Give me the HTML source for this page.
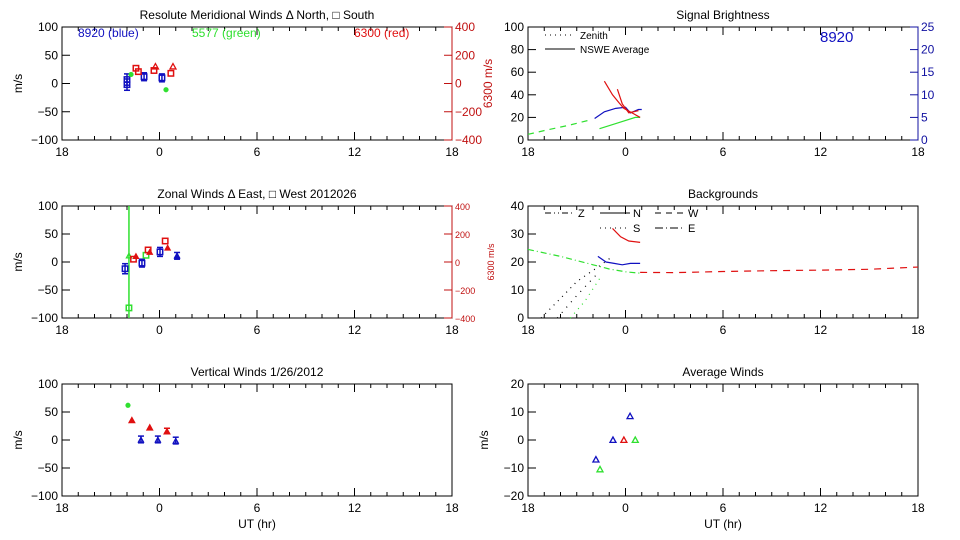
<!DOCTYPE html>
<html><head><meta charset="utf-8"><style>
body{margin:0;background:#fff;}
svg{display:block;font-family:"Liberation Sans",sans-serif;}
</style></head><body>
<svg id="c" width="960" height="540" viewBox="0 0 960 540" xmlns="http://www.w3.org/2000/svg"></svg>
<script>
// ---- data (x = hours after 18 UT) ----
const xTickLabels=["18","0","6","12","18"];
const mwTicks=[100,50,0,-50,-100];
const redTicks=[400,200,0,-200,-400];
// Meridional
const merBlueT=[4.0,4.0,5.05,6.15], merBlueV=[7,-2,12,10], merBlueErr=[10,10,7,7];
const merGreenT=[4.25,6.4], merGreenV=[16,-11];
const merRedSqT=[4.55,4.7,5.66,6.7], merRedSqV=[108,84,92,72];
const merRedTriT=[5.75,6.83], merRedTriV=[120,120];
// Zonal
const zonBlueT=[3.88,4.92,6.03,7.08], zonBlueV=[-12,-2,18,11], zonBlueErr=[9,7,8,6];
const zonGreenT=[4.12,4.12,5.17], zonGreenV=[-82,11,12];
const zonRedSqT=[4.4,5.3,6.35], zonRedSqV=[20,86,150];
const zonRedTriT=[4.55,5.4,6.5], zonRedTriV=[40,70,100];
// Vertical
const verGreenT=[4.06], verGreenV=[62];
const verRedT=[4.3,5.4,6.46], verRedV=[35,22,15];
const verBlueT=[4.86,5.9,7.0], verBlueV=[0,0,-2];
// Signal brightness (left axis 0-100)
const sbGreenDashT=[0,1.2,2.5,3.9], sbGreenDashV=[5,9,13,18];
const sbGreenT=[4.4,5.5,6.6,6.9], sbGreenV=[10,15,20,20];
const sbBlueT=[4.1,4.7,5.4,6.0,6.3,6.8,7.0], sbBlueV=[19,25,28,29,24,27,27];
const sbRedT=[4.7,5.2,5.6,5.9,6.4,6.9], sbRedV=[52,40,33,28,24,20];
const sbRedT2=[5.5,5.8,6.2,6.8], sbRedV2=[45,32,24,26];
// Backgrounds (0-40)
const bgRedDashT=[6.9,9,12,15,18,21,24], bgRedDashV=[16.3,16.2,16.6,16.9,17.1,17.4,18.2];
const bgGreenT=[0,2,4,5,6,6.9], bgGreenV=[24.5,22,19,17.5,16.5,16];
const bgBlueT=[4.3,4.8,5.3,5.8,6.3,6.9], bgBlueV=[22,20,19.5,19,19.5,19.5];
const bgRedT=[5.2,5.7,6.2,6.9], bgRedV=[32,29,27.5,27];
const bgZenT=[0.8,2,3,4.5,5.2], bgZenV=[0,7,13,19,22];
const bgZen2T=[1.8,3,4.3], bgZen2V=[0,8,16];
const bgZen3T=[2.6,3.5,4.4], bgZen3V=[0,6,14];
// Average winds
const avBlueT=[4.18,5.23,6.28], avBlueV=[-7,0,8.5];
const avGreenT=[4.43,6.6], avGreenV=[-10.5,0];
const avRedT=[5.9], avRedV=[0];

const S=document.getElementById('c');
const NS='http://www.w3.org/2000/svg';
function el(tag,at,parent){const e=document.createElementNS(NS,tag);for(const k in at)e.setAttribute(k,at[k]);(parent||S).appendChild(e);return e;}
function txt(x,y,s,at,parent){const t=el('text',Object.assign({x:x,y:y,'font-size':12,fill:'#000'},at||{}),parent);t.textContent=s;return t;}

function panel(name,x0,x1,y0,y1,vmin,vmax,yticks,title,xlabel,showXTitle){
  const g=el('g',{});
  
  
  const P={x0,x1,y0,y1,vmin,vmax,g,
    X:t=>x0+(x1-x0)*t/24,
    Y:v=>y1-(y1-y0)*(v-vmin)/(vmax-vmin)};
  el('rect',{x:x0,y:y0,width:x1-x0,height:y1-y0,fill:'none',stroke:'#000','stroke-width':1},g);
  for(let h=1;h<24;h++){const xx=P.X(h),len=(h%6==0)?8:4;
    el('line',{x1:xx,x2:xx,y1:y1,y2:y1-len,stroke:'#000'},g);el('line',{x1:xx,x2:xx,y1:y0,y2:y0+len,stroke:'#000'},g);}
  yticks.forEach(v=>{const yy=P.Y(v);
    el('line',{x1:x0,x2:x0+8,y1:yy,y2:yy,stroke:'#000'},g);
    txt(x0-4,yy+4,String(v).replace('-','\u2212'),{'text-anchor':'end'},g);});
  xTickLabels.forEach((l,i)=>{txt(P.X(i*6),y1+16,l,{'text-anchor':'middle'},g);});
  const tt=txt((x0+x1)/2,y0-8,title,{'text-anchor':'middle'},g);
  
  if(xlabel)txt((x0+x1)/2,y1+32,'UT (hr)',{'text-anchor':'middle'},g);
  if(showXTitle){const t=txt(0,0,'m/s',{'text-anchor':'middle',transform:`translate(${x0-40},${(y0+y1)/2}) rotate(-90)`},g);}
  return P;
}
function rightAxis(P,rmin,rmax,ticks,color,label,fs){
  const ax=el('g',{});
  
  
  const R=v=>P.y1-(P.y1-P.y0)*(v-rmin)/(rmax-rmin);
  el('line',{x1:P.x1,x2:P.x1,y1:P.y0,y2:P.y1,stroke:color},ax);
  ticks.forEach(v=>{const yy=R(v);el('line',{x1:P.x1-8,x2:P.x1,y1:yy,y2:yy,stroke:color},ax);
    txt(P.x1+3,yy+4,String(v).replace('-','\u2212'),{fill:color,'font-size':fs},ax);});
  if(label)txt(0,0,label,{fill:color,'font-size':fs,'text-anchor':'middle',transform:`translate(${P.x1+(fs<12?42:40)},${(P.y0+P.y1)/2}) rotate(-90)`},ax);
  return R;
}
function tri(x,y,c,s,fill){s=s||3;const p=el('polygon',{points:`${x},${y-s} ${x-s},${y+s*0.8} ${x+s},${y+s*0.8}`,fill:fill?c:'none',stroke:c,'stroke-width':1.3});return p;}
function sq(x,y,c){const p=el('rect',{x:x-2.7,y:y-2.7,width:5.4,height:5.4,fill:'none',stroke:c,'stroke-width':1.5});return p;}
function star(x,y,c){const p=el('circle',{cx:x,cy:y,r:2.6,fill:c});return p;}
function err(x,y1,y2,c){el('line',{x1:x,x2:x,y1:y1,y2:y2,stroke:c,'stroke-width':1.5});el('line',{x1:x-3,x2:x+3,y1:y1,y2:y1,stroke:c,'stroke-width':1.5});el('line',{x1:x-3,x2:x+3,y1:y2,y2:y2,stroke:c,'stroke-width':1.5});}
function line(P,T,V,c,dash,name){const pl=el('polyline',{points:T.map((t,i)=>P.X(t)+','+P.Y(V[i])).join(' '),fill:'none',stroke:c,'stroke-width':1.2,'stroke-dasharray':dash||'none'});}

const BLUE='#1010c0',GREEN='#30e030',RED='#e01010',DRED='#c01010';
// Panel 1
const P1=panel('meridional-panel',62,452,27,140,-100,100,mwTicks,'Resolute Meridional Winds \u0394 North, \u25A1 South',false,true);
const R1=rightAxis(P1,-400,400,redTicks,DRED,'6300 m/s',12);
txt(78,37,'8920 (blue)',{fill:BLUE});txt(192,37,'5577 (green)',{fill:GREEN});txt(354,37,'6300 (red)',{fill:RED});
merBlueT.forEach((t,i)=>{const x=P1.X(t);err(x,P1.Y(merBlueV[i]+merBlueErr[i]),P1.Y(merBlueV[i]-merBlueErr[i]),BLUE);sq(x,P1.Y(merBlueV[i]),BLUE);});
merGreenT.forEach((t,i)=>star(P1.X(t),P1.Y(merGreenV[i]),GREEN));
merRedSqT.forEach((t,i)=>sq(P1.X(t),R1(merRedSqV[i]),RED));
merRedTriT.forEach((t,i)=>tri(P1.X(t),R1(merRedTriV[i]),RED,3,false));
// Panel 2
const P2=panel('zonal-panel',62,452,206,318,-100,100,mwTicks,'Zonal Winds \u0394 East, \u25A1 West 2012026',false,true);
const R2=rightAxis(P2,-400,400,redTicks,DRED,'6300 m/s',9);
el('line',{x1:P2.X(zonGreenT[0]),x2:P2.X(zonGreenT[0]),y1:P2.y0,y2:P2.y1,stroke:GREEN,'stroke-width':1.5});
zonBlueT.forEach((t,i)=>{const x=P2.X(t);err(x,P2.Y(zonBlueV[i]+zonBlueErr[i]),P2.Y(zonBlueV[i]-zonBlueErr[i]),BLUE);if(i<3)sq(x,P2.Y(zonBlueV[i]),BLUE);else tri(x,P2.Y(zonBlueV[i]),BLUE,2.5,true);});
zonGreenT.forEach((t,i)=>{if(i==1)tri(P2.X(t),P2.Y(zonGreenV[i]),GREEN,2.5);else sq(P2.X(t),P2.Y(zonGreenV[i]),GREEN);});
zonRedSqT.forEach((t,i)=>sq(P2.X(t),R2(zonRedSqV[i]),RED));
zonRedTriT.forEach((t,i)=>tri(P2.X(t),R2(zonRedTriV[i]),RED,2.5,true));
// Panel 3
const P3=panel('vertical-panel',62,452,384,496,-100,100,mwTicks,'Vertical Winds 1/26/2012',true,true);
verGreenT.forEach((t,i)=>star(P3.X(t),P3.Y(verGreenV[i]),GREEN));
verRedT.forEach((t,i)=>{const x=P3.X(t);if(i==2)err(x,P3.Y(verRedV[i]+6),P3.Y(verRedV[i]-3),RED);tri(x,P3.Y(verRedV[i]),RED,2.8,true);});
verBlueT.forEach((t,i)=>{const x=P3.X(t);err(x,P3.Y(verBlueV[i]+7),P3.Y(verBlueV[i]-5),BLUE);tri(x,P3.Y(verBlueV[i]),BLUE,2.5);});
// Panel 4
const P4=panel('signal-brightness-panel',528,918,27,140,0,100,[100,80,60,40,20,0],'Signal Brightness',false,false);
rightAxis(P4,0,25,[25,20,15,10,5,0],'#1010a0',null,12);
txt(820,42,'8920',{fill:BLUE,'font-size':15});
el('line',{x1:545,x2:575,y1:35,y2:35,stroke:'#000','stroke-dasharray':'1 4'});txt(580,39,'Zenith',{'font-size':10});
el('line',{x1:545,x2:575,y1:49,y2:49,stroke:'#000'});txt(580,53,'NSWE Average',{'font-size':10});
line(P4,sbGreenDashT,sbGreenDashV,GREEN,'6 5','green-dashed-line');
line(P4,sbGreenT,sbGreenV,GREEN,null,'green-line');
line(P4,sbBlueT,sbBlueV,BLUE,null,'blue-line');
line(P4,sbRedT,sbRedV,RED,null,'red-line');
line(P4,sbRedT2,sbRedV2,RED,null,'red-line-2');
// Panel 5
const P5=panel('backgrounds-panel',528,918,206,318,0,40,[40,30,20,10,0],'Backgrounds',false,false);
const lg=[[545,'Z','6 3 1 3 1 3',213],[600,'N','none',213],[655,'W','6 5',213],[600,'S','1 4',228],[655,'E','8 3 1 3',228]];
lg.forEach(l=>{el('line',{x1:l[0],x2:l[0]+30,y1:l[3],y2:l[3],stroke:'#000','stroke-dasharray':l[2]});txt(l[0]+33,l[3]+4,l[1],{'font-size':11});});
line(P5,bgZenT,bgZenV,'#000','1 5','zenith-line');
line(P5,bgZen2T,bgZen2V,'#000','1 6','zenith-line-2');
line(P5,bgZen3T,bgZen3V,GREEN,'1 5','zenith-green-line');
line(P5,bgGreenT,bgGreenV,GREEN,'6 3 1 3','green-bg-line');
line(P5,bgBlueT,bgBlueV,BLUE,null,'blue-bg-line');
line(P5,bgRedT,bgRedV,RED,null,'red-bg-line');
line(P5,bgRedDashT,bgRedDashV,RED,'7 6','red-dashed-bg-line');
// Panel 6
const P6=panel('average-winds-panel',528,918,384,496,-20,20,[20,10,0,-10,-20],'Average Winds',true,true);
avBlueT.forEach((t,i)=>tri(P6.X(t),P6.Y(avBlueV[i]),BLUE,3));
avGreenT.forEach((t,i)=>tri(P6.X(t),P6.Y(avGreenV[i]),GREEN,3));
avRedT.forEach((t,i)=>tri(P6.X(t),P6.Y(avRedV[i]),RED,3));
</script>
</body></html>
